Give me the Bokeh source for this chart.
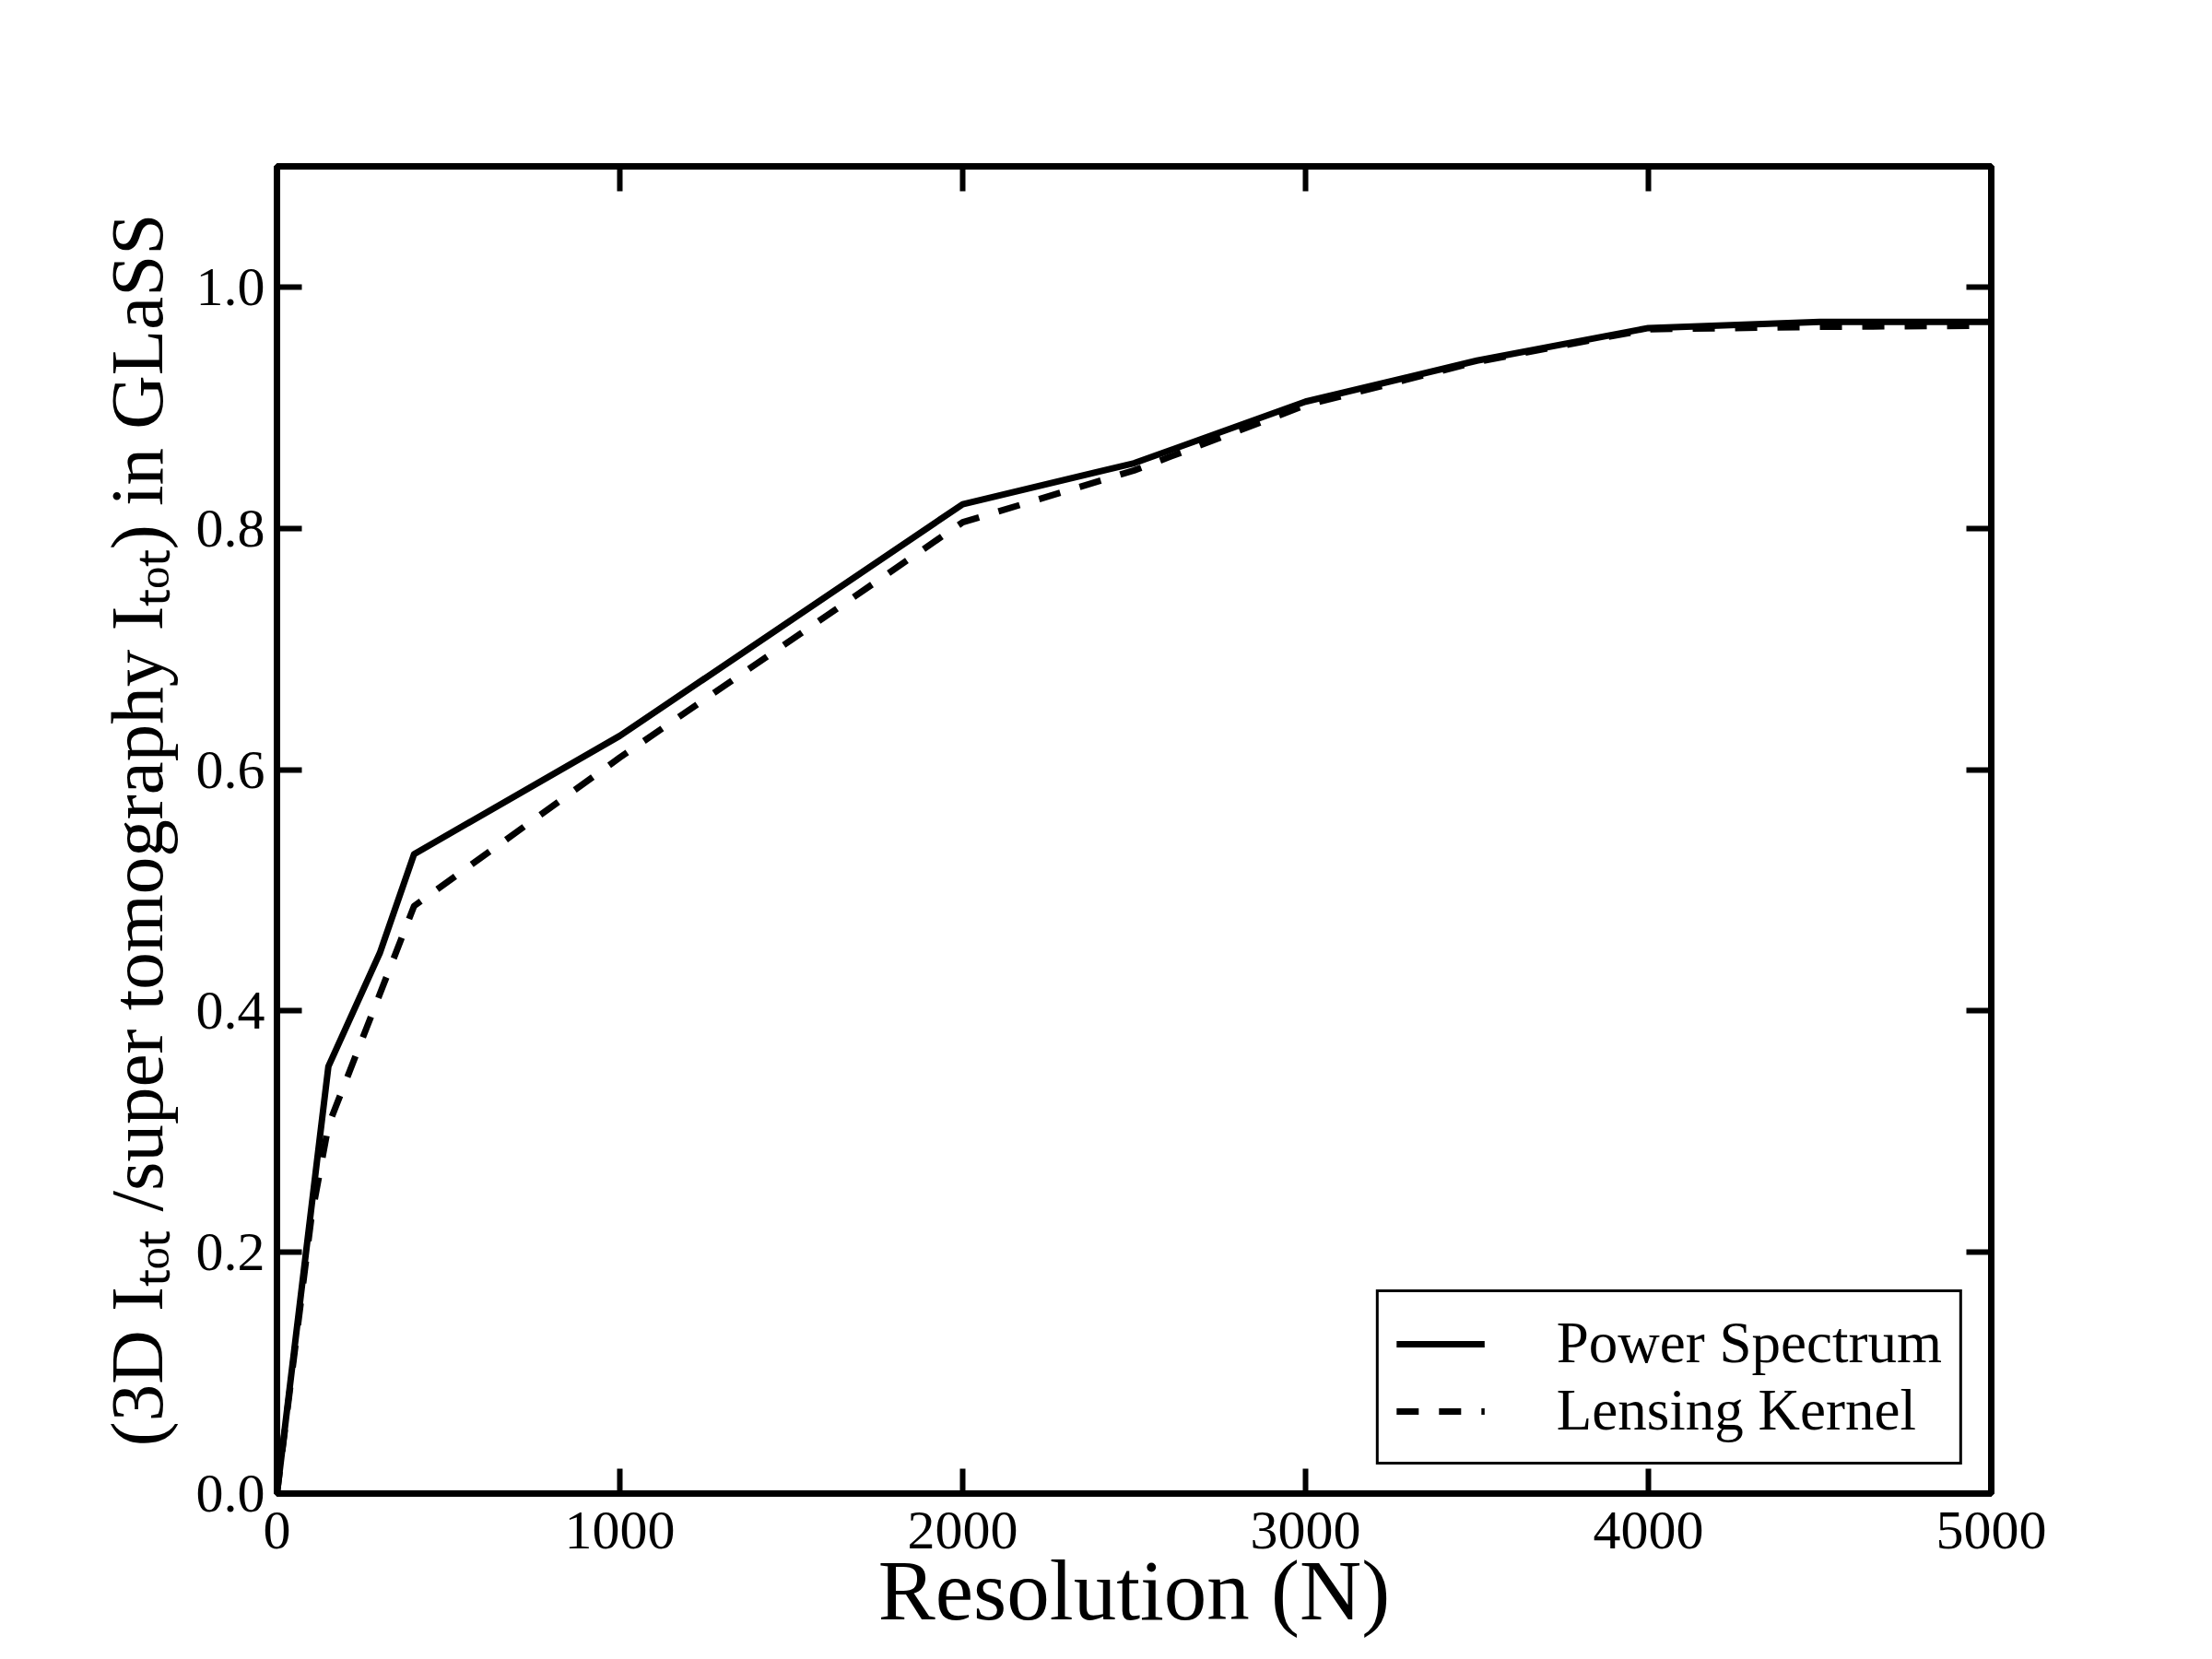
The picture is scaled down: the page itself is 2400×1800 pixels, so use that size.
from bokeh.plotting import figure
from bokeh.models import Range1d, LinearAxis, FixedTicker, Legend, LegendItem, PrintfTickFormatter
from bokeh.embed import file_html
from bokeh.resources import INLINE

# ---- data ----
resolution = [0, 100, 150, 300, 400, 1000, 2000, 2500, 3000, 3500, 4000, 4500, 5000]
power_spectrum = [0.0, 0.236, 0.354, 0.448, 0.530, 0.628, 0.820, 0.854, 0.905, 0.939, 0.966, 0.971, 0.971]
lensing_kernel = [0.0, 0.228, 0.305, 0.414, 0.487, 0.610, 0.805, 0.848, 0.902, 0.938, 0.965, 0.967, 0.968]
x_ticks = [0, 1000, 2000, 3000, 4000, 5000]
y_ticks = [0.0, 0.2, 0.4, 0.6, 0.8, 1.0]
series_names = ["Power Spectrum", "Lensing Kernel"]
x_label = "Resolution (N)"
y_label = "(3D I\u209c\u2092\u209c /super tomography I\u209c\u2092\u209c) in GLaSS"

FONT = "Liberation Serif"
W, H = 2380, 1780
FL, FR, FT, FB = 300, 2160, 180, 1620

p = figure(width=W, height=H, output_backend="svg", toolbar_location=None,
           x_range=Range1d(0, 5000), y_range=Range1d(0, 1.1),
           x_axis_location=None, y_axis_location=None,
           min_border_left=FL, min_border_right=W - FR,
           min_border_top=FT, min_border_bottom=H - FB)
p.grid.visible = False
p.outline_line_color = "black"
p.outline_line_width = 7
p.outline_line_alpha = 1.0
p.background_fill_color = "white"
p.border_fill_color = "white"

def make_axis(ticks, fmt, labels=True):
    ax = LinearAxis(ticker=FixedTicker(ticks=ticks), formatter=PrintfTickFormatter(format=fmt))
    ax.axis_line_color = None
    ax.major_tick_in = 27
    ax.major_tick_out = 0
    ax.major_tick_line_width = 6
    ax.major_tick_line_color = "black"
    ax.minor_tick_line_color = None
    ax.major_label_text_font = FONT
    ax.major_label_text_font_size = "60px"
    ax.major_label_text_color = "black"
    ax.axis_label_text_font = FONT
    ax.axis_label_text_font_style = "normal"
    ax.axis_label_text_color = "black"
    if not labels:
        ax.major_label_overrides = {t: "" for t in ticks}
        ax.major_label_standoff = 0
    return ax

xb = make_axis(x_ticks, "%d")
xb.axis_label = x_label
xb.axis_label_text_font_size = "93px"
xb.major_label_standoff = 20
xb.axis_label_standoff = -9
p.add_layout(xb, "below")

yl = make_axis(y_ticks, "%.1f")
yl.axis_label = y_label
yl.axis_label_text_font_size = "81px"
yl.major_label_standoff = 13
yl.axis_label_standoff = 16
p.add_layout(yl, "left")

xt = make_axis(x_ticks, "%d", labels=False)
p.add_layout(xt, "above")
yr = make_axis(y_ticks, "%.1f", labels=False)
p.add_layout(yr, "right")

r1 = p.line(resolution, power_spectrum, line_color="black", line_width=7, line_join="round")
r2 = p.line(resolution, lensing_kernel, line_color="black", line_width=7, line_dash="24 22", line_join="round")

legend = Legend(items=[LegendItem(label=series_names[0], renderers=[r1]),
                       LegendItem(label=series_names[1], renderers=[r2])],
                location="bottom_right")
legend.margin = 31
legend.padding = 19
legend.spacing = 0
legend.glyph_width = 96
legend.glyph_height = 60
legend.label_height = 60
legend.label_standoff = 78
legend.label_text_font = FONT
legend.label_text_font_size = "63px"
legend.label_text_color = "black"
legend.border_line_color = "black"
legend.border_line_width = 3
legend.border_line_alpha = 1.0
legend.background_fill_color = "white"
legend.background_fill_alpha = 1.0
p.add_layout(legend, "center")

open("out.html", "w").write(file_html(p, INLINE))
